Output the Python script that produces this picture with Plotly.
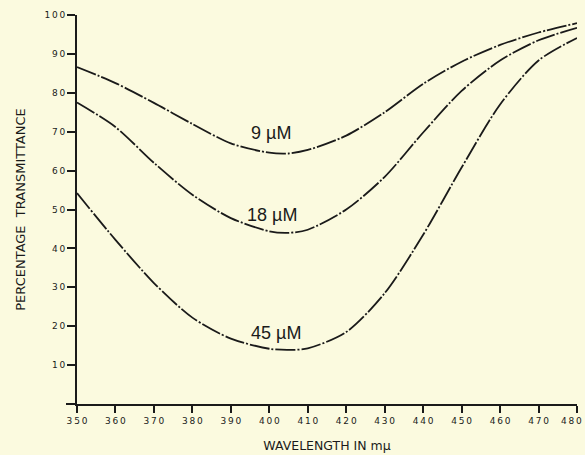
import plotly.graph_objects as go

wavelength = [350, 360, 370, 380, 390, 400, 405, 410, 420, 430, 440, 450, 460, 470, 480]
t_9uM = [86.6, 82.5, 77.4, 72.0, 67.0, 64.6, 64.4, 65.3, 69.0, 75.0, 82.3, 88.0, 92.3, 95.5, 97.9]
t_18uM = [77.5, 71.2, 62.0, 53.8, 47.8, 44.4, 44.0, 44.8, 50.0, 58.4, 69.8, 80.5, 88.3, 93.5, 96.7]
t_45uM = [54.2, 42.2, 31.1, 22.2, 16.8, 14.2, 13.9, 14.3, 18.5, 28.5, 43.5, 60.8, 77.0, 88.3, 94.1]

series_names = ["9 µM", "18 µM", "45 µM"]
series_values = [t_9uM, t_18uM, t_45uM]
label_x = [400.4, 400.6, 401.7]
label_y = [69.7, 48.6, 18.3]

x_ticks = list(range(350, 481, 10))
y_ticks = list(range(10, 101, 10))
y_tick_text = ["\u2009".join(str(v)) for v in y_ticks]
x_tick_text = ["\u2009".join(str(v)) for v in x_ticks]

bg = "#fbfadf"
ink = "#1a1a1a"
tick_font = dict(size=9, family="DejaVu Sans", color=ink)

fig = go.Figure()
for name, vals in zip(series_names, series_values):
    fig.add_trace(go.Scatter(
        x=wavelength, y=vals, mode="lines", name=name,
        line=dict(color=ink, width=1.8, dash="20px,2px,2px,2px", shape="spline", smoothing=0.8),
        showlegend=False, hoverinfo="skip"))

for name, lx, ly in zip(series_names, label_x, label_y):
    fig.add_annotation(x=lx, y=ly, text=name, showarrow=False,
                       font=dict(family="Liberation Sans, Arial", size=18, color=ink))

# last x tick label sits against the right edge, so place it inside the page
fig.add_annotation(x=x_ticks[-1], xref="x", y=0, yref="paper", text=x_tick_text[-1],
                   showarrow=False, xanchor="right", yanchor="top", xshift=7, yshift=-10,
                   font=tick_font)

fig.update_layout(
    width=585, height=455,
    margin=dict(l=77, r=8, t=15, b=51),
    paper_bgcolor=bg, plot_bgcolor=bg,
    font=dict(family="DejaVu Sans", color=ink),
)
fig.update_xaxes(
    range=[350, 480], tickvals=x_ticks, ticktext=x_tick_text[:-1] + [""],
    automargin=False,
    showgrid=False, zeroline=False, showline=True, linecolor=ink, linewidth=2,
    ticks="outside", ticklen=7, tickwidth=1.5, tickcolor=ink,
    tickfont=tick_font,
    title=dict(text="WAVELENGTH IN mμ", font=dict(size=12.5, family="DejaVu Sans", color=ink), standoff=16),
)
fig.update_yaxes(
    range=[0, 100], tickvals=y_ticks, ticktext=y_tick_text,
    automargin=False,
    showgrid=False, zeroline=False, showline=True, linecolor=ink, linewidth=2,
    ticks="outside", ticklen=8, tickwidth=1.5, tickcolor=ink,
    tickfont=tick_font,
    title=dict(text="PERCENTAGE  TRANSMITTANCE", font=dict(size=13, family="DejaVu Sans", color=ink), standoff=16),
)
fig.add_shape(type="line", xref="paper", yref="paper", x0=-0.022, x1=0, y0=0, y1=0,
              line=dict(color=ink, width=2))

fig.write_html("out.html")
